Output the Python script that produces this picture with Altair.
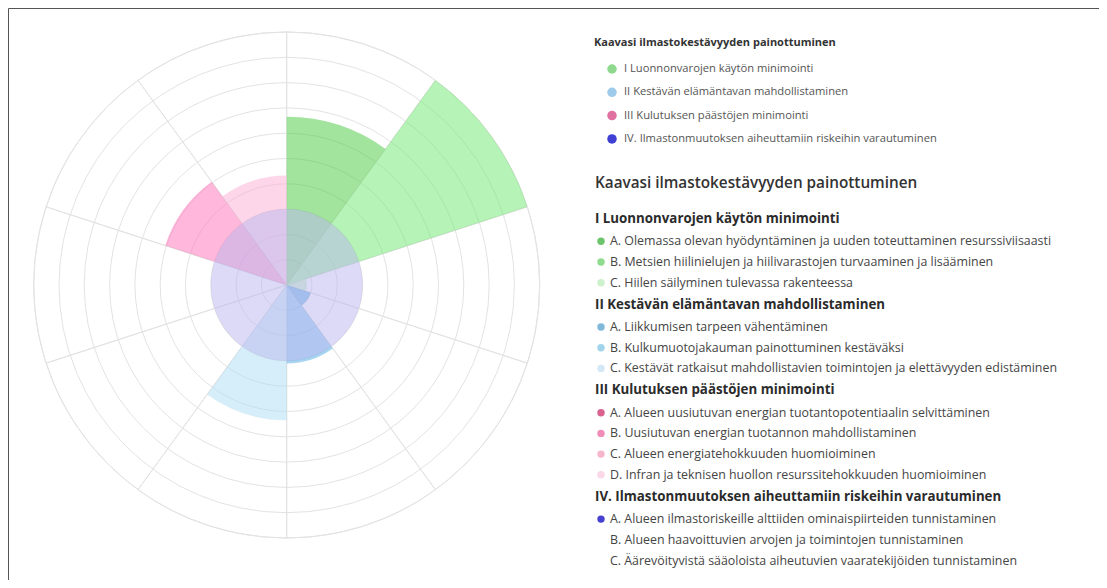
import math
import altair as alt
import pandas as pd

# ---------------- data ----------------
slot_items = ["I A", "I B", "I C", "II A", "II B", "II C", "III A", "III B", "III C", "III D"]
slot_values = [6.65, 10.0, 0.8, 1.0, 3.1, 5.35, 0.0, 0.0, 5.05, 4.33]
slot_colors = ["#45c93d", "#6de76d", "#a9eba9", "#1989d5", "#51ade5", "#adddf3",
               "#d9628f", "#f08cb8", "#ff72b8", "#fbadd5"]
iv_item = "IV A"
iv_value = 3.0
iv_color = "#b9b5ed"
ring_levels = [1, 2, 3, 4, 5, 6, 7, 8, 9, 10]
scale_max = 10

chart_title = "Kaavasi ilmastokestävyyden painottuminen"
categories = [
    "I Luonnonvarojen käytön minimointi",
    "II Kestävän elämäntavan mahdollistaminen",
    "III Kulutuksen päästöjen minimointi",
    "IV. Ilmastonmuutoksen aiheuttamiin riskeihin varautuminen",
]
category_colors = ["#8fd98f", "#9fcbea", "#e0709f", "#3f3fd4"]

cat_I_items = [
    "A. Olemassa olevan hyödyntäminen ja uuden toteuttaminen resurssiviisaasti",
    "B. Metsien hiilinielujen ja hiilivarastojen turvaaminen ja lisääminen",
    "C. Hiilen säilyminen tulevassa rakenteessa",
]
cat_II_items = [
    "A. Liikkumisen tarpeen vähentäminen",
    "B. Kulkumuotojakauman painottuminen kestäväksi",
    "C. Kestävät ratkaisut mahdollistavien toimintojen ja elettävyyden edistäminen",
]
cat_III_items = [
    "A. Alueen uusiutuvan energian tuotantopotentiaalin selvittäminen",
    "B. Uusiutuvan energian tuotannon mahdollistaminen",
    "C. Alueen energiatehokkuuden huomioiminen",
    "D. Infran ja teknisen huollon resurssitehokkuuden huomioiminen",
]
cat_IV_items = [
    "A. Alueen ilmastoriskeille alttiiden ominaispiirteiden tunnistaminen",
    "B. Alueen haavoittuvien arvojen ja toimintojen tunnistaminen",
    "C. Äärevöityvistä sääoloista aiheutuvien vaaratekijöiden tunnistaminen",
]
item_dot_colors = [
    ["#6cc56c", "#8fdc8f", "#cdf1cd"],
    ["#7fb8d8", "#a2d5ec", "#d3e7f4"],
    ["#d9628f", "#f08cb8", "#f6b6ce", "#fbd8e7"],
    ["#4640d0", None, None],
]

# ---------------- layout ----------------
FONT = "Open Sans"
W, H = 1091, 572
CX, CY, R = 278.7, 277.0, 253.0
OFF = 8
N = len(slot_items)
GRID = "#e3e3e3"


def rs():
    return alt.Scale(type="linear", domain=[0, scale_max], range=[0, R])


def ts():
    return alt.Scale(type="linear", domain=[0, N], range=[0, 2 * math.pi])


slots = pd.DataFrame({
    "item": slot_items,
    "value": slot_values,
    "top": [scale_max] * N,
    "s0": list(range(N)),
    "s1": [i + 1 for i in range(N)],
})

rings = alt.Chart(pd.DataFrame({"r": ring_levels, "a0": [0] * len(ring_levels),
                                "a1": [N] * len(ring_levels)})).mark_arc(
    fillOpacity=0, stroke=GRID, strokeWidth=1
).encode(
    theta=alt.Theta("a0:Q", scale=ts()), theta2="a1:Q",
    radius=alt.Radius("r:Q", scale=rs()),
    x=alt.value(CX), y=alt.value(CY),
)

spokes = alt.Chart(slots).mark_arc(fillOpacity=0, stroke=GRID, strokeWidth=1).encode(
    theta=alt.Theta("s0:Q", scale=ts()), theta2="s1:Q",
    radius=alt.Radius("top:Q", scale=rs()),
    x=alt.value(CX), y=alt.value(CY),
)

sectors = alt.Chart(slots).mark_arc(fillOpacity=0.5, strokeWidth=0).encode(
    theta=alt.Theta("s0:Q", scale=ts()), theta2="s1:Q",
    radius=alt.Radius("value:Q", scale=rs()),
    color=alt.Color("item:N", scale=alt.Scale(domain=slot_items, range=slot_colors), legend=None),
    x=alt.value(CX), y=alt.value(CY),
)

disc = alt.Chart(pd.DataFrame({"item": [iv_item], "value": [iv_value], "a0": [0], "a1": [N]})).mark_arc(
    fillOpacity=0.5, color=iv_color, strokeWidth=0
).encode(
    theta=alt.Theta("a0:Q", scale=ts()), theta2="a1:Q",
    radius=alt.Radius("value:Q", scale=rs()),
    x=alt.value(CX), y=alt.value(CY),
)

polar = alt.layer(rings, spokes, sectors, disc)

# ---------------- texts ----------------
ypix = alt.Scale(type="linear", domain=[0, H], range=[0, H], zero=False, nice=False)


def Y():
    return alt.Y("y:Q", scale=ypix, axis=None)


leg_rows = pd.DataFrame({
    "text": categories,
    "col": category_colors,
    "y": [69 - OFF + i * 23.3 for i in range(len(categories))],
})
small_title = alt.Chart(pd.DataFrame({"text": [chart_title], "y": [43 - OFF]})).mark_text(
    align="left", baseline="middle", font=FONT, fontSize=11, fontWeight="bold", color="#333"
).encode(x=alt.value(594 - OFF), y=Y(), text="text:N")
leg_dots = alt.Chart(leg_rows).mark_circle(size=90, opacity=1).encode(
    x=alt.value(612 - OFF), y=Y(), color=alt.Color("col:N", scale=None)
)
leg_text = alt.Chart(leg_rows).mark_text(
    align="left", baseline="middle", font=FONT, fontSize=11.2, color="#555"
).encode(x=alt.value(624 - OFF), y=Y(), text="text:N")

all_items = [cat_I_items, cat_II_items, cat_III_items, cat_IV_items]
head_rows, item_rows = [], []
y = 219.0
for ci, cat in enumerate(categories):
    head_rows.append({"text": cat, "y": y - OFF})
    y += 22.3
    for k, it in enumerate(all_items[ci]):
        item_rows.append({"text": it, "y": y - OFF, "col": item_dot_colors[ci][k]})
        y += 20.7
    y += 22.0 - 20.7
head_df = pd.DataFrame(head_rows)
item_df = pd.DataFrame(item_rows)
dot_df = item_df.dropna(subset=["col"])

big_head = alt.Chart(pd.DataFrame({"text": [chart_title], "y": [183 - OFF]})).mark_text(
    align="left", baseline="middle", font=FONT, fontSize=15.3, fontWeight=600, color="#333"
).encode(x=alt.value(595 - OFF), y=Y(), text="text:N")
cat_heads = alt.Chart(head_df).mark_text(
    align="left", baseline="middle", font=FONT, fontSize=13.3, fontWeight="bold", color="#2b2b2b"
).encode(x=alt.value(595 - OFF), y=Y(), text="text:N")
item_dots = alt.Chart(dot_df).mark_circle(size=55, opacity=1).encode(
    x=alt.value(601 - OFF), y=Y(), color=alt.Color("col:N", scale=None)
)
item_text = alt.Chart(item_df).mark_text(
    align="left", baseline="middle", font=FONT, fontSize=12.4, color="#454545"
).encode(x=alt.value(610 - OFF), y=Y(), text="text:N")

texts = alt.layer(small_title, leg_dots, leg_text, big_head, cat_heads, item_dots, item_text)

chart = alt.layer(polar, texts).properties(
    width=W, height=H, padding=0,
).configure_view(stroke="#555", strokeWidth=1)

chart.save("out.html", embed_options={"renderer": "svg", "actions": False})
